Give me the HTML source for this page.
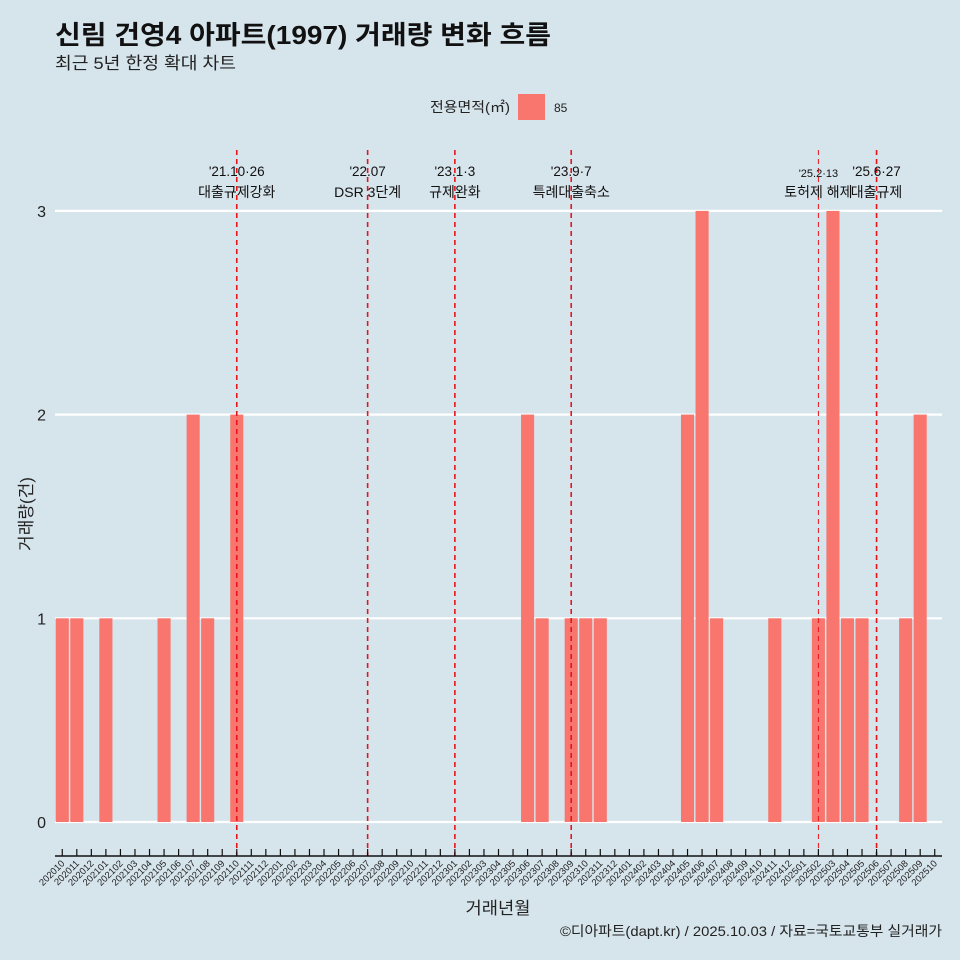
<!DOCTYPE html>
<html><head><meta charset="utf-8">
<style>
html,body{margin:0;padding:0;background:#d6e4ec;}
svg{display:block;font-family:"Liberation Sans","Noto Sans CJK KR",sans-serif;}
</style></head>
<body>
<svg id="chart" width="960" height="960" viewBox="0 0 960 960">
<rect width="960" height="960" fill="#d6e4ec"/>
<text x="55" y="44" font-size="26" font-weight="bold" fill="#111" textLength="496" lengthAdjust="spacingAndGlyphs">신림 건영4 아파트(1997) 거래량 변화 흐름</text>
<text x="55" y="69" font-size="17" fill="#222" textLength="181" lengthAdjust="spacingAndGlyphs">최근 5년 한정 확대 차트</text>
<g>
<text x="510" y="112" font-size="14" fill="#222" text-anchor="end" textLength="80" lengthAdjust="spacingAndGlyphs">전용면적(㎡)</text>
<rect x="518" y="94" width="27" height="26" fill="#f8766d"/>
<text x="554" y="112" font-size="12" fill="#222">85</text>
</g>
<g id="grid"></g><g id="bars"></g><g id="events"></g><g id="axes"></g>
<text x="32" y="514" font-size="17" fill="#222" text-anchor="middle" transform="rotate(-90 32 514)">거래량(건)</text>
<text x="498" y="914" font-size="17" fill="#222" text-anchor="middle" textLength="65" lengthAdjust="spacingAndGlyphs">거래년월</text>
<text x="942" y="936" font-size="14" fill="#222" text-anchor="end" textLength="382" lengthAdjust="spacingAndGlyphs">©디아파트(dapt.kr) / 2025.10.03 / 자료=국토교통부 실거래가</text>
</svg>
<script>
const months = [];
for (let yy = 2020, m = 10; ; m++) { if (m > 12) { m = 1; yy++; } if (yy === 2025 && m > 10) break; months.push(String(yy) + String(m).padStart(2,'0')); }
const dealMonths = ["202010","202011","202101","202105","202107","202108","202110","202306","202307","202309","202310","202311","202405","202406","202407","202411","202502","202503","202504","202505","202508","202509"];
const dealCounts = [1,1,1,1,2,1,2,2,1,1,1,1,2,3,1,1,1,3,1,1,1,2];
const yTicks = [0,1,2,3];
const eventMonths = ["202110","202207","202301","202309","202502","202506"];
const eventDates = ["'21.10·26","'22.07","'23.1·3","'23.9·7","'25.2·13","'25.6·27"];
const eventLabels = ["대출규제강화","DSR 3단계","규제완화","특례대출축소","토허제 해제","대출규제"];

const NS = "http://www.w3.org/2000/svg";
const x0 = 55, x1 = 942, step = (x1 - x0) / months.length;
const xc = m => x0 + step * (months.indexOf(m) + 0.5);
const y = v => 822 - v * 203.7;
function mk(tag, attrs, parent) { const e = document.createElementNS(NS, tag); for (const k in attrs) e.setAttribute(k, attrs[k]); parent.appendChild(e); return e; }
const grid = document.getElementById('grid'), bars = document.getElementById('bars'), ev = document.getElementById('events'), axes = document.getElementById('axes');
yTicks.forEach(t => {
  const l = mk('line', {x1: x0, x2: x1, y1: y(t), y2: y(t), stroke: '#fff', 'stroke-width': 2.2}, grid);
  
  
  const tx = mk('text', {x: 46, y: y(t) + 6, 'font-size': 16, fill: '#222', 'text-anchor': 'end'}, axes);
  tx.textContent = t;
  
  
});
dealMonths.forEach((m, i) => {
  const r = mk('rect', {x: xc(m) - step * 0.45, width: step * 0.9, y: y(dealCounts[i]), height: y(0) - y(dealCounts[i]), fill: '#f8766d'}, bars);
  
  
});
eventMonths.forEach((m, i) => {
  const x = xc(m);
  const small = m === "202502";
  const l = mk('line', {x1: x, x2: x, y1: 150, y2: 856, stroke: '#e8141c', 'stroke-width': small ? 1 : 1.6, 'stroke-dasharray': '5,4'}, ev);
  
  
  const d = mk('text', {x: x, y: small ? 177 : 176, 'font-size': small ? 11 : 13.5, fill: '#111', 'text-anchor': 'middle'}, ev);
  d.textContent = eventDates[i];
  
  
  const t = mk('text', {x: x, y: 197, 'font-size': 14, fill: '#111', 'text-anchor': 'middle'}, ev);
  t.textContent = eventLabels[i];
  
  
});
const ax = mk('line', {x1: x0, x2: x1, y1: 856, y2: 856, stroke: '#111', 'stroke-width': 1.5}, axes);


months.forEach(m => {
  const x = xc(m);
  const tk = mk('line', {x1: x, x2: x, y1: 849, y2: 856, stroke: '#111', 'stroke-width': 1.2}, axes);
  
  
  const t = mk('text', {x: x + 3, y: 864, 'font-size': 9.5, fill: '#222', 'text-anchor': 'end', transform: `rotate(-45 ${x + 3} 864)`}, axes);
  t.textContent = m;
  
  
});
</script>
</body></html>
